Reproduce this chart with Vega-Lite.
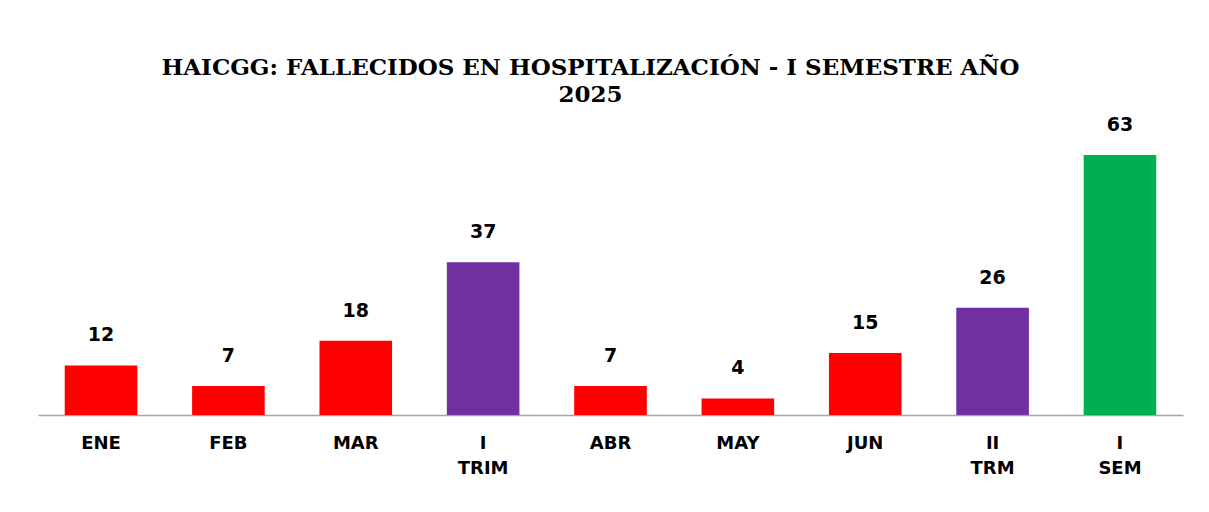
{
  "$schema": "https://vega.github.io/schema/vega-lite/v6.json",
  "autosize": "none",
  "width": 1145,
  "height": 289,
  "padding": {"left": 38, "top": 126, "right": 26, "bottom": 97},
  "background": "white",
  "config": {"view": {"stroke": null}},
  "title": {
    "text": ["HAICGG: FALLECIDOS EN HOSPITALIZACIÓN - I  SEMESTRE AÑO", "2025"],
    "font": "DejaVu Serif",
    "fontSize": 23,
    "fontWeight": "bold",
    "color": "#000000",
    "anchor": "middle",
    "dx": -20,
    "offset": 9,
    "lineHeight": 27
  },
  "data": {
    "values": [
      {"cat": "ENE", "value": 12, "tipo": "mes"},
      {"cat": "FEB", "value": 7, "tipo": "mes"},
      {"cat": "MAR", "value": 18, "tipo": "mes"},
      {"cat": "I TRIM", "value": 37, "tipo": "trim"},
      {"cat": "ABR", "value": 7, "tipo": "mes"},
      {"cat": "MAY", "value": 4, "tipo": "mes"},
      {"cat": "JUN", "value": 15, "tipo": "mes"},
      {"cat": "II TRM", "value": 26, "tipo": "trim"},
      {"cat": "I SEM", "value": 63, "tipo": "sem"}
    ]
  },
  "encoding": {
    "x": {
      "field": "cat",
      "type": "nominal",
      "sort": null,
      "scale": {"paddingInner": 0.43, "paddingOuter": 0.21},
      "axis": {
        "title": null,
        "labelAngle": 0,
        "labelExpr": "split(datum.label, ' ')",
        "labelFont": "DejaVu Sans",
        "labelFontWeight": "bold",
        "labelFontSize": 18,
        "labelColor": "#000000",
        "labelPadding": 19,
        "labelLineHeight": 25,
        "ticks": false,
        "domainColor": "#a6a6a6",
        "domainWidth": 1.5
      }
    },
    "y": {
      "field": "value",
      "type": "quantitative",
      "scale": {"domain": [0, 70]},
      "axis": null
    }
  },
  "layer": [
    {
      "mark": {"type": "bar"},
      "encoding": {
        "color": {
          "field": "tipo",
          "type": "nominal",
          "scale": {"domain": ["mes", "trim", "sem"], "range": ["#FF0000", "#7030A0", "#00B050"]},
          "legend": null
        }
      }
    },
    {
      "mark": {"type": "text", "dy": -30, "font": "DejaVu Sans", "fontWeight": "bold", "fontSize": 19, "color": "#000000"},
      "encoding": {"text": {"field": "value", "type": "quantitative"}}
    }
  ]
}
